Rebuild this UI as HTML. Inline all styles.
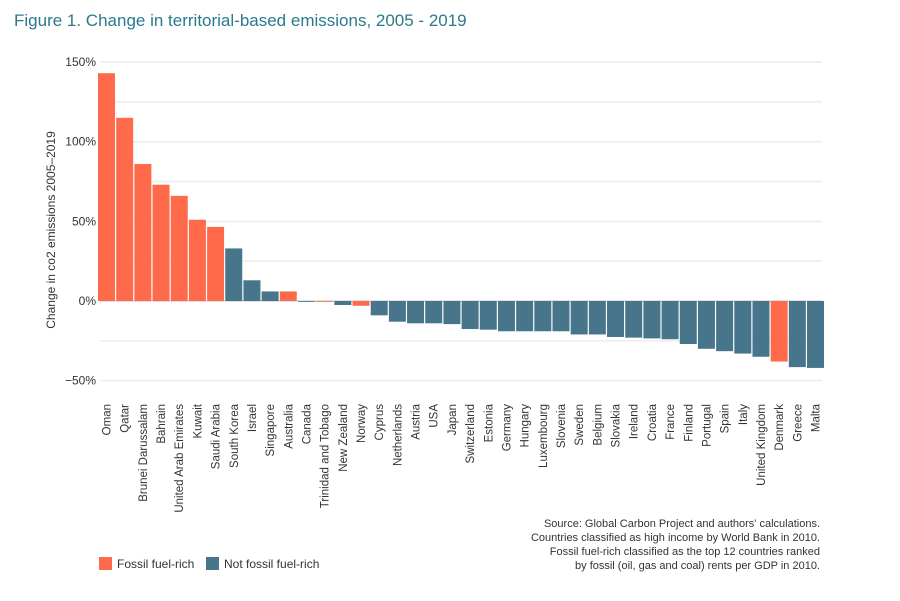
<!DOCTYPE html>
<html><head><meta charset="utf-8"><style>
body{margin:0;background:#fff;width:900px;height:596px;overflow:hidden;font-family:"Liberation Sans",sans-serif}
</style></head><body>
<svg id="c" width="900" height="596" xmlns="http://www.w3.org/2000/svg">
<text x="14" y="26" font-size="17" fill="#2a7a8c">Figure 1. Change in territorial-based emissions, 2005 - 2019</text>
<text transform="translate(55,230) rotate(-90)" text-anchor="middle" font-size="12" fill="#333">Change in co2 emissions 2005–2019</text>
<g id="grid"></g><g id="bars"></g><g id="xl"></g>
<g font-size="11" fill="#333" text-anchor="end">
<text x="820" y="527">Source: Global Carbon Project and authors' calculations.</text>
<text x="820" y="541">Countries classified as high income by World Bank in 2010.</text>
<text x="820" y="555">Fossil fuel-rich classified as the top 12 countries ranked</text>
<text x="820" y="569">by fossil (oil, gas and coal) rents per GDP in 2010.</text>
</g>
<g font-size="12" fill="#333">
<rect x="99" y="557" width="13" height="13" fill="#ff6a4b"/>
<text x="117" y="568">Fossil fuel-rich</text>
<rect x="206" y="557" width="13" height="13" fill="#46758c"/>
<text x="224" y="568">Not fossil fuel-rich</text>
</g>
</svg>
<script>
const countries=["Oman","Qatar","Brunei Darussalam","Bahrain","United Arab Emirates","Kuwait","Saudi Arabia","South Korea","Israel","Singapore","Australia","Canada","Trinidad and Tobago","New Zealand","Norway","Cyprus","Netherlands","Austria","USA","Japan","Switzerland","Estonia","Germany","Hungary","Luxembourg","Slovenia","Sweden","Belgium","Slovakia","Ireland","Croatia","France","Finland","Portugal","Spain","Italy","United Kingdom","Denmark","Greece","Malta"];
const values=[143,115,86,73,66,51,46.5,33,13,6,6,-0.3,-0.5,-2.5,-3,-9,-13,-14,-14,-14.5,-17.6,-18,-19,-19,-19,-19,-21,-21,-22.6,-23,-23.5,-24,-27,-30,-31.5,-33,-35,-38,-41.5,-42];
const fossil=[1,1,1,1,1,1,1,0,0,0,1,0,1,0,1,0,0,0,0,0,0,0,0,0,0,0,0,0,0,0,0,0,0,0,0,0,0,1,0,0];
const ticks=[150,125,100,75,50,25,0,-25,-50];
const tickLabels={150:"150%",100:"100%",50:"50%",0:"0%","-50":"−50%"};
const NS="http://www.w3.org/2000/svg";
const y=v=>301-v*1.593;
const x0=98,step=18.18,bw=17;
const g=document.getElementById('grid'),b=document.getElementById('bars'),xl=document.getElementById('xl');
function mk(t,a,p){const e=document.createElementNS(NS,t);for(const k in a)e.setAttribute(k,a[k]);p.appendChild(e);return e;}
ticks.forEach(t=>{
 const l=mk('line',{x1:100,x2:822,y1:y(t),y2:y(t),stroke:t===0?'#e0e0e0':'#ececec','stroke-width':t===0?2:1.5},g);
 
 
 if(tickLabels[t]){const tx=mk('text',{x:96,y:y(t)+4,'text-anchor':'end','font-size':12,fill:'#333'},g);tx.textContent=tickLabels[t];
 
 }
});
countries.forEach((c,i)=>{
 const v=values[i],x=x0+i*step;
 const r=mk('rect',{x:x,y:Math.min(y(v),y(0)),width:bw,height:Math.max(Math.abs(y(v)-y(0)),0.8),fill:fossil[i]?'#ff6a4b':'#46758c'},b);
 
 
 const cx=x+bw/2+4;
 const t=mk('text',{x:cx,y:404,transform:`rotate(-90 ${cx} 404)`,'text-anchor':'end','font-size':11.5,fill:'#333'},xl);
 t.textContent=c;
 
 
});
</script>
</body></html>
